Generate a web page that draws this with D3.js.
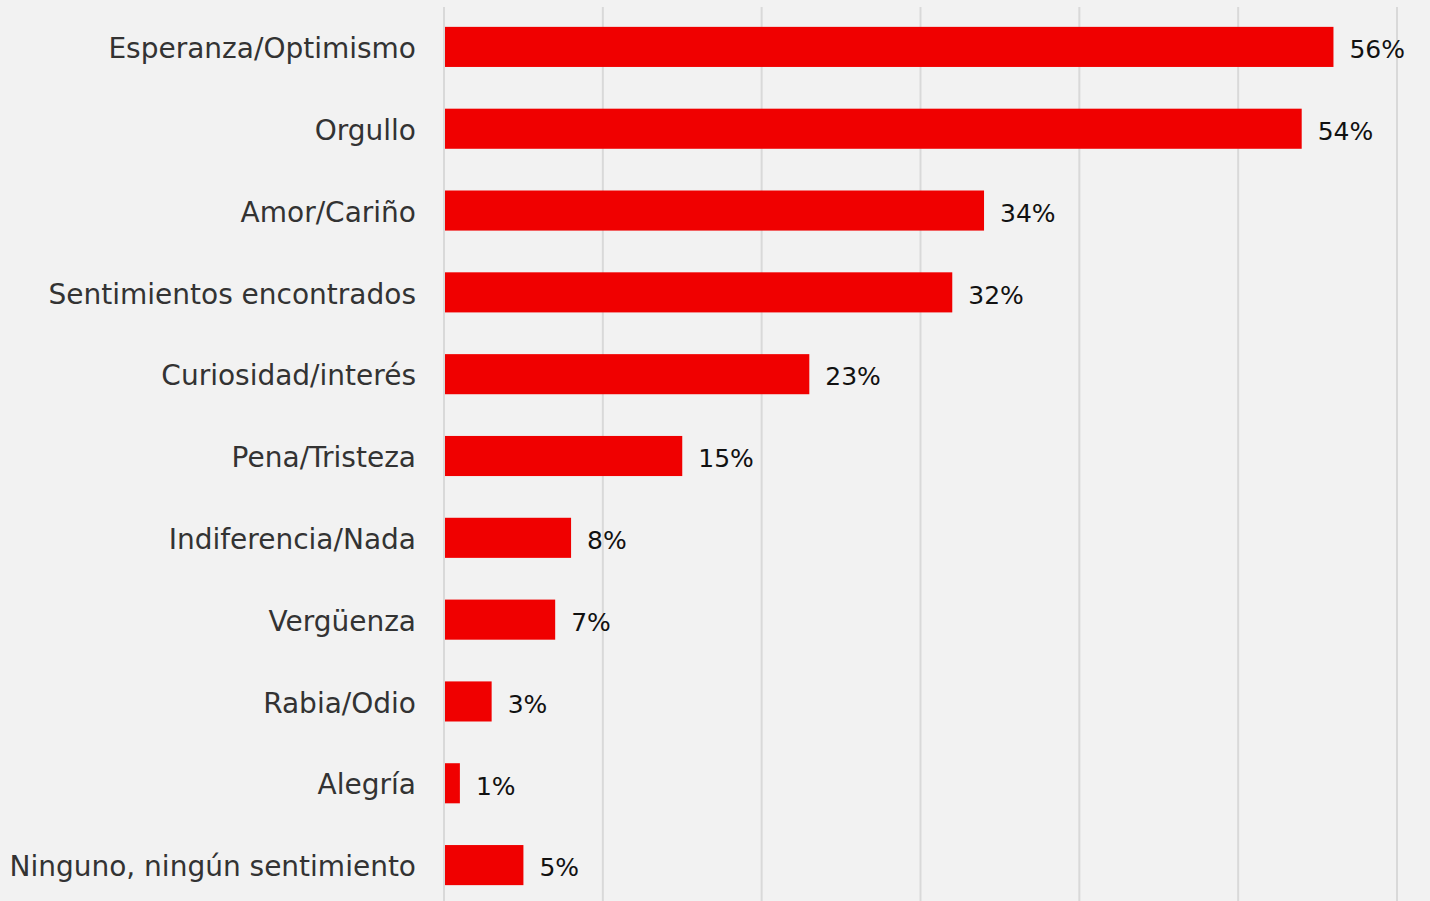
<!DOCTYPE html>
<html>
<head>
<meta charset="utf-8">
<script src="https://cdn.jsdelivr.net/npm/d3@7"></script>
<style>
  html, body { margin: 0; padding: 0; background: #f2f2f2; }
  svg { display: block; }
</style>
</head>
<body>
<div id="chart"></div>
<script>
const categories = [
  'Esperanza/Optimismo',
  'Orgullo',
  'Amor/Cariño',
  'Sentimientos encontrados',
  'Curiosidad/interés',
  'Pena/Tristeza',
  'Indiferencia/Nada',
  'Vergüenza',
  'Rabia/Odio',
  'Alegría',
  'Ninguno, ningún sentimiento'
]
const values = [56, 54, 34, 32, 23, 15, 8, 7, 3, 1, 5]
const ticks = [0, 10, 20, 30, 40, 50, 60]

const width = 1430
const height = 901
const fontFamily = "'DejaVu Sans', sans-serif"

const svg = d3.select('#chart')
  .append('svg')
    .attr('width', width)
    .attr('height', height)

svg.append('rect')
  .attr('width', width)
  .attr('height', height)
  .attr('fill', '#f2f2f2')

const x = d3.scaleLinear()
  .domain([0, 60])
  .range([444, 1397])

const y = d3.scaleBand()
  .domain(categories)
  .range([6, 906])
  .paddingInner(0.51)
  .paddingOuter(0.255)

// vertical gridlines
svg.selectAll('line.grid')
  .data(ticks)
  .enter()
  .append('line')
    .attr('class', 'grid')
    .attr('x1', d => x(d))
    .attr('x2', d => x(d))
    .attr('y1', 7)
    .attr('y2', height)
    .attr('stroke', '#d9d9d9')
    .attr('stroke-width', 2)

// bars
svg.selectAll('rect.bar')
  .data(values)
  .enter()
  .append('rect')
    .attr('class', 'bar')
    .attr('x', x(0) + 1)
    .attr('y', (d, i) => y(categories[i]))
    .attr('width', d => x(d) - x(0) - 1)
    .attr('height', y.bandwidth())
    .attr('fill', '#f00000')

// value labels
svg.selectAll('text.value')
  .data(values)
  .enter()
  .append('text')
    .attr('class', 'value')
    .attr('x', d => x(d) + 16)
    .attr('y', (d, i) => y(categories[i]) + y.bandwidth() / 2)
    .attr('dy', '0.45em')
    .style('font-family', fontFamily)
    .style('font-size', '25px')
    .attr('fill', '#111')
    .text(d => d + '%')

// category labels
const yAxis = d3.axisLeft(y).tickSize(0).tickPadding(28)
const gy = svg.append('g')
  .attr('transform', `translate(${x(0)},0)`)
  .call(yAxis)
gy.select('.domain').remove()
gy.selectAll('text')
  .attr('dy', '0.4em')
  .style('font-family', fontFamily)
  .style('font-size', '28px')
  .attr('fill', '#333')
</script>
</body>
</html>
